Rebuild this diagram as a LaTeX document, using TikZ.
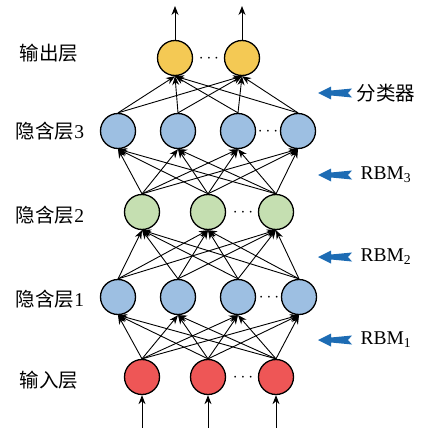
\documentclass[tikz,border=0pt]{standalone}
\usepackage{fontspec}
\setmainfont{Liberation Serif}
\newfontfamily\cjk{Noto Sans CJK SC}
\usetikzlibrary{arrows.meta}
\definecolor{outY}{HTML}{F4C954}
\definecolor{hidB}{HTML}{9DBFE2}
\definecolor{hidG}{HTML}{C5DFB1}
\definecolor{inR}{HTML}{EE5656}
\definecolor{tagB}{HTML}{1D6CB4}
% blue block arrow with a notched tail, tip at (#1,#2)
\newcommand{\tagarrow}[2]{%
  \fill[tagB,shift={(#1,#2)}] (0,0) -- (13,6.5) -- (13,2.5) -- (34,4.5) -- (30,0)
    -- (34,-4.5) -- (13,-2.5) -- (13,-6.5) -- cycle;}
\begin{document}
\begin{tikzpicture}[x=1pt,y=-1pt,
  neuron/.style={circle,draw=black,line width=1.3pt,minimum size=35pt,inner sep=0pt},
  link/.style={line width=0.9pt,-{Stealth[length=9pt,width=7pt]}},
  lab/.style={font=\fontsize{19.5}{20}\selectfont\cjk},
  side/.style={anchor=west,font=\fontsize{19.5}{20}\selectfont},
  dots/.style={font=\fontsize{19}{19}\selectfont}]
\useasboundingbox (0,0) rectangle (420,428);

% layers of neurons
\foreach \x [count=\i] in {175,242}
  \node[neuron,fill=outY] (o\i) at (\x,58) {};
\foreach \x [count=\i] in {118,178,238,298}
  \node[neuron,fill=hidB] (c\i) at (\x,131) {};
\foreach \x [count=\i] in {142,208,276}
  \node[neuron,fill=hidG] (b\i) at (\x,212) {};
\foreach \x [count=\i] in {118,178,238,299}
  \node[neuron,fill=hidB] (a\i) at (\x,297) {};
\foreach \x [count=\i] in {142,208,276}
  \node[neuron,fill=inR] (n\i) at (\x,377) {};

% ellipses between the last two neurons of each layer
\node[dots] (od) at (209,59) {$\cdots$};
\node[dots] (cd) at (268,132) {$\cdots$};
\node[dots] (bd) at (243,213) {$\cdots$};
\node[dots] (ad) at (269,298) {$\cdots$};
\node[dots] (nd) at (243,378) {$\cdots$};

% full connections between neighbouring layers
\foreach \s in {1,2,3} \foreach \t in {1,2,3,4}
  \draw[link] (n\s.north) -- (a\t.south);
\foreach \s in {1,2,3,4} \foreach \t in {1,2,3}
  \draw[link] (a\s.north) -- (b\t.south);
\foreach \s in {1,2,3} \foreach \t in {1,2,3,4}
  \draw[link] (b\s.north) -- (c\t.south);
\foreach \s in {1,2,3,4} \foreach \t in {1,2}
  \draw[link] (c\s.north) -- (o\t.south);

% inputs and outputs
\foreach \x [count=\i] in {142,208,276} {
  \coordinate (in\i) at (\x,428);
  \draw[link] (in\i) -- (n\i.south);
}
\foreach \x [count=\i] in {175,242} {
  \coordinate (out\i) at (\x,6);
  \draw[link] (o\i.north) -- (out\i);
}

% layer names
\node[lab] (lo) at (49,53) {输出层};
\node[lab] (lc) at (50,131) {隐含层\rmfamily 3};
\node[lab] (lb) at (50,215) {隐含层\rmfamily 2};
\node[lab] (la) at (50,299) {隐含层\rmfamily 1};
\node[lab] (ln) at (49,380) {输入层};

% stage tags
\tagarrow{318}{93}
\node[side,font=\fontsize{19.5}{20}\selectfont\cjk] (tc) at (353,93) {分类器};
\tagarrow{318}{175}
\node[side] (t3) at (357,175) {RBM\textsubscript{3}};
\tagarrow{318}{257}
\node[side] (t2) at (357,257) {RBM\textsubscript{2}};
\tagarrow{318}{340}
\node[side] (t1) at (357,340) {RBM\textsubscript{1}};
\end{tikzpicture}
\end{document}
